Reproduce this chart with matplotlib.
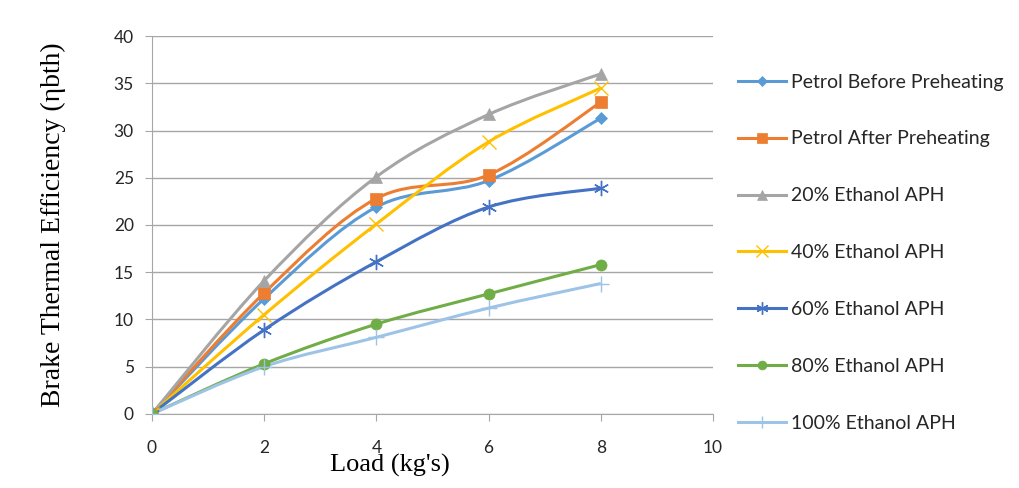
import numpy as np
import matplotlib
matplotlib.use("Agg")
import matplotlib.pyplot as plt
from matplotlib.path import Path
from matplotlib.patches import PathPatch
from matplotlib.lines import Line2D

load = [0, 2, 4, 6, 8]
petrol_before = [0, 12.2, 21.9, 24.7, 31.3]
petrol_after = [0, 12.8, 22.8, 25.3, 33.0]
eth20 = [0, 14.1, 25.1, 31.7, 36.0]
eth40 = [0, 10.5, 20.1, 28.8, 34.5]
eth60 = [0, 8.9, 16.1, 21.9, 23.9]
eth80 = [0, 5.3, 9.5, 12.7, 15.8]
eth100 = [0, 5.0, 8.1, 11.2, 13.8]

labels = ["Petrol Before Preheating", "Petrol After Preheating",
          "20% Ethanol APH", "40% Ethanol APH", "60% Ethanol APH",
          "80% Ethanol APH", "100% Ethanol APH"]
series = [petrol_before, petrol_after, eth20, eth40, eth60, eth80, eth100]
colors = ["#5B9BD5", "#ED7D31", "#A5A5A5", "#FFC000", "#4472C4",
          "#70AD47", "#9DC3E6"]
markers = ["D", "s", "^", "x", (6, 2, 0), "o", "+"]
msizes = [6, 9, 9, 10, 11, 8, 11]


def smooth_path(x, y):
    # Excel-like smoothed line: cubic bezier through every point
    pts = np.column_stack([x, y]).astype(float)
    ext = np.vstack([pts[0], pts, pts[-1]])
    verts = [pts[0]]
    codes = [Path.MOVETO]
    for i in range(len(pts) - 1):
        p0, p1, p2, p3 = ext[i], ext[i + 1], ext[i + 2], ext[i + 3]
        c1 = p1 + (p2 - p0) / 6.0
        c2 = p2 - (p3 - p1) / 6.0
        verts += [c1, c2, p2]
        codes += [Path.CURVE4] * 3
    return Path(verts, codes)


fig = plt.figure(figsize=(10.2, 4.88), dpi=100)
ax = fig.add_axes([0.149, 0.152, 0.550, 0.774])

handles = []
for vals, lab, col, mk, ms in zip(series, labels, colors, markers, msizes):
    patch = PathPatch(smooth_path(load, vals), facecolor="none",
                      edgecolor=col, lw=2.2, zorder=3)
    ax.add_patch(patch)
    mew = 1.0 if mk in ("x", "+") or isinstance(mk, tuple) else 0.5
    ax.plot(load, vals, linestyle="none", marker=mk, ms=ms, color=col,
            mec=col, mew=mew, zorder=4)
    handles.append(Line2D([], [], color=col, lw=2.2, marker=mk,
                          ms=ms * 0.8, mew=mew, label=lab))

ax.set_xlim(0, 10)
ax.set_ylim(0, 40)
ax.set_xticks(range(0, 11, 2))
ax.set_yticks(range(0, 41, 5))
ax.yaxis.grid(True, color="#A6A6A6", lw=1.0)
ax.set_axisbelow(True)
for side in ("top", "right"):
    ax.spines[side].set_visible(False)
for side in ("left", "bottom"):
    ax.spines[side].set_color("#A6A6A6")
ax.tick_params(axis="both", colors="#A6A6A6", labelcolor="#262626",
               labelsize=12.5, length=5, direction="out")
ax.tick_params(axis="x", pad=14)
ax.tick_params(axis="y", pad=8)
for t in ax.get_xticklabels() + ax.get_yticklabels():
    t.set_family("Lato")

fig.text(0.052, 0.54, "Brake Thermal Efficiency (\u03b7bth)",
         family="Liberation Serif", fontsize=20, rotation=90,
         ha="center", va="center")
fig.text(0.382, 0.022, "Load (kg's)", family="Liberation Serif", fontsize=19,
         ha="center", va="bottom")

leg = fig.legend(handles=handles, loc="upper left",
                 bbox_to_anchor=(0.706, 0.885), frameon=False,
                 labelspacing=2.05, handlelength=2.5, handletextpad=0.25,
                 numpoints=1, prop={"family": "Lato", "size": 14})
for t in leg.get_texts():
    t.set_color("#262626")

fig.savefig("out.png", dpi=100)
